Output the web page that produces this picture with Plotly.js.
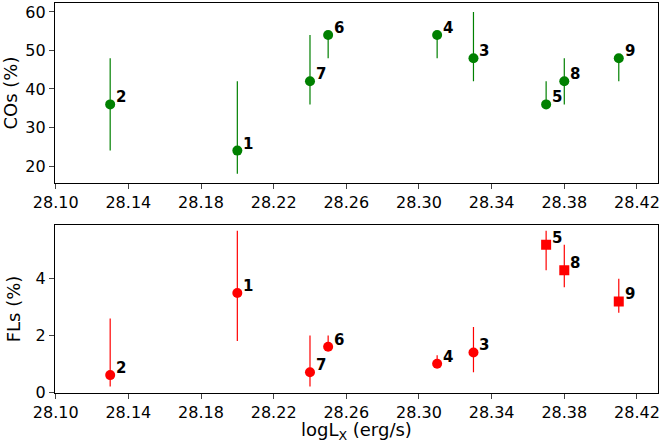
<!DOCTYPE html>
<html><head><script src="https://cdn.plot.ly/plotly-3.0.1.min.js"></script></head>
<body style="margin:0"><div id="c" style="width:660px;height:443px"></div>
<script>
const labels=['2','1','7','6','4','3','5','8','9'];
const logLx=[28.13,28.20,28.24,28.25,28.31,28.33,28.37,28.38,28.41];
const cos=[36,24,42,54,54,48,36,42,48];
const cosLo=[24,18,36,48,48,42,36,36,42];
const cosHi=[48,42,54,54,54,60,42,48,48];
const fls=[0.6,3.5,0.7,1.6,1.0,1.4,5.2,4.3,3.2];
const flsLo=[0.2,1.8,0.2,1.6,0.9,0.7,4.3,3.7,2.8];
const flsHi=[2.6,5.7,2.0,2.0,1.3,2.3,5.7,5.2,4.0];
const flsSym=['circle','circle','circle','circle','circle','circle','square','square','square'];
const G='#008000',R='#ff0000';
const traces=[
{x:logLx,y:cos,type:'scatter',mode:'markers',marker:{color:G,size:10},
 error_y:{type:'data',symmetric:false,array:cosHi.map((h,i)=>h-cos[i]),arrayminus:cos.map((v,i)=>v-cosLo[i]),color:G,thickness:1.2,width:0},xaxis:'x',yaxis:'y'},
{x:logLx,y:fls,type:'scatter',mode:'markers',marker:{color:R,size:10,symbol:flsSym},
 error_y:{type:'data',symmetric:false,array:flsHi.map((h,i)=>h-fls[i]),arrayminus:fls.map((v,i)=>v-flsLo[i]),color:R,thickness:1.2,width:0},xaxis:'x2',yaxis:'y2'}
];
const ann=[];
labels.forEach((l,i)=>{
 ann.push({x:logLx[i],y:cos[i],xref:'x',yref:'y',text:'<b>'+l+'</b>',showarrow:false,xanchor:'left',yanchor:'bottom',xshift:4,yshift:-4,font:{size:15,color:'black',family:'DejaVu Sans'}});
 ann.push({x:logLx[i],y:fls[i],xref:'x2',yref:'y2',text:'<b>'+l+'</b>',showarrow:false,xanchor:'left',yanchor:'bottom',xshift:4,yshift:-4,font:{size:15,color:'black',family:'DejaVu Sans'}});
});
function ax(){return {range:[28.0995,28.4316],tickmode:'linear',tick0:28.10,dtick:0.04,tickformat:'.2f',showgrid:false,zeroline:false,showline:true,mirror:true,linecolor:'black',ticks:'outside',ticklen:5,tickfont:{size:16},domain:[0.083,0.997]};}
const layout={showlegend:false,margin:{l:0,r:0,t:0,b:0},width:660,height:443,
 font:{family:'DejaVu Sans',color:'black'},plot_bgcolor:'white',paper_bgcolor:'white',
 xaxis:Object.assign(ax(),{anchor:'y'}),
 xaxis2:Object.assign(ax(),{anchor:'y2',title:{text:'logL<sub>X</sub> (erg/s)',font:{size:18},standoff:4}}),
 yaxis:{domain:[0.587,0.993],range:[15.6,62.3],tickvals:[20,30,40,50,60],showgrid:false,zeroline:false,showline:true,mirror:true,linecolor:'black',ticks:'outside',ticklen:5,tickfont:{size:16},title:{text:'COs (%)',font:{size:18},standoff:4},anchor:'x'},
 yaxis2:{domain:[0.113,0.492],range:[-0.03,5.9],tickvals:[0,2,4],showgrid:false,zeroline:false,showline:true,mirror:true,linecolor:'black',ticks:'outside',ticklen:5,tickfont:{size:16},title:{text:'FLs (%)',font:{size:18},standoff:10},anchor:'x2'},
 annotations:ann};
Plotly.newPlot('c',traces,layout,{displayModeBar:false});
</script></body></html>
